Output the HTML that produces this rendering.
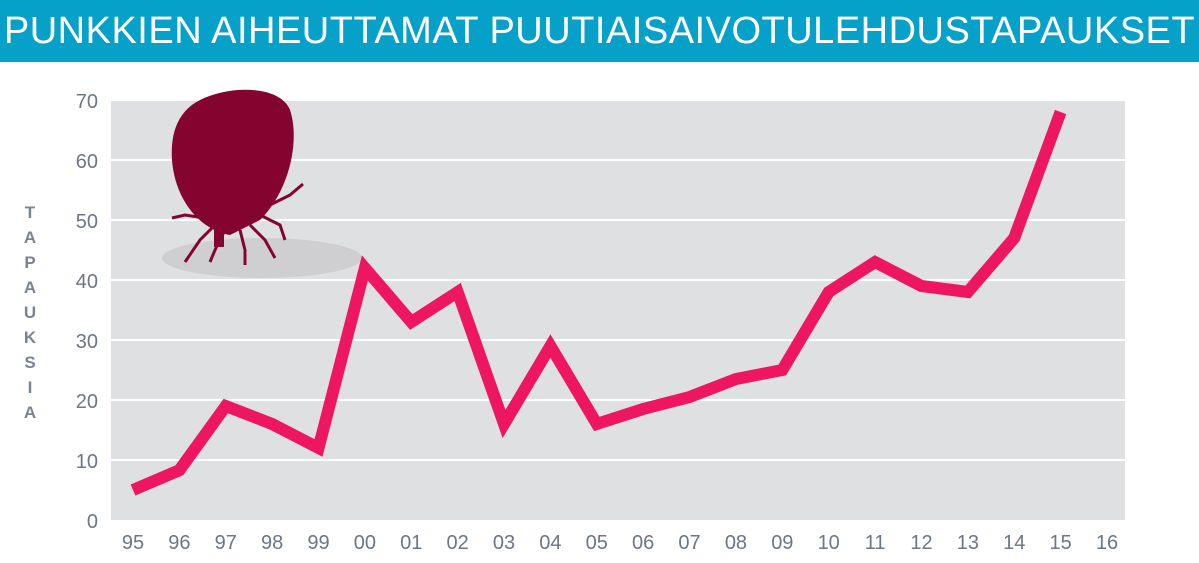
<!DOCTYPE html>
<html><head><meta charset="utf-8"><style>
body{margin:0;width:1199px;height:563px;background:#fff;overflow:hidden;font-family:"Liberation Sans",sans-serif}
#hdr{position:absolute;left:0;top:0;width:1199px;height:62px;background:#05a1c8;color:#fff;font-size:38px;line-height:62px;text-align:center;letter-spacing:0.5px}
</style></head><body>
<div id="hdr">PUNKKIEN AIHEUTTAMAT PUUTIAISAIVOTULEHDUSTAPAUKSET</div>
<svg id="chart" width="1199" height="563" style="position:absolute;left:0;top:0">
<rect x="111" y="100" width="1014" height="420" fill="#dfe0e2"/>
<g id="grid"></g><g id="yt"></g><g id="xt"></g>
<g>
<ellipse cx="262" cy="258" rx="100" ry="20" fill="#c8c8cc" opacity="0.7"/>
<path d="M200 100 C230 85 280 85 290 110 C300 140 290 190 260 220 L230 235 C200 230 175 200 172 160 C170 130 180 110 200 100Z" fill="#85042f"/>
<g stroke="#85042f" stroke-width="3" fill="none">
<path d="M215 225 L200 240 L185 262"/><path d="M225 230 L215 250 L210 262"/><path d="M240 230 L245 250 L245 265"/><path d="M250 225 L265 240 L275 258"/><path d="M260 215 L280 225 L285 240"/><path d="M270 205 L290 195 L303 184"/><path d="M205 218 L185 215 L172 218"/></g>
<rect x="214" y="225" width="10" height="22" fill="#85042f"/>
</g>
<path id="line" fill="none" stroke="#ee1660" stroke-width="12" stroke-linejoin="miter"/>
<g fill="#7a8490" font-size="17" font-weight="bold" text-anchor="middle">
<text x="30" y="218">T</text><text x="30" y="243">A</text><text x="30" y="268">P</text><text x="30" y="293">A</text><text x="30" y="318">U</text><text x="30" y="343">K</text><text x="30" y="368">S</text><text x="30" y="393">I</text><text x="30" y="418">A</text></g>
</svg>
<script>
const years=["95","96","97","98","99","00","01","02","03","04","05","06","07","08","09","10","11","12","13","14","15","16"];
const cases=[5,8.3,19,16,12,42,33,38,16,29,16,18.5,20.5,23.5,25,38,43,39,38,47,68];
const yTicks=[0,10,20,30,40,50,60,70];
const NS="http://www.w3.org/2000/svg";
const x=i=>133+i*46.38, y=v=>520-v*6;
const grid=document.getElementById('grid'),yt=document.getElementById('yt'),xt=document.getElementById('xt');
yTicks.forEach(t=>{
 if(t>0){const l=document.createElementNS(NS,'line');
 
 
 l.setAttribute('x1',111);l.setAttribute('x2',1125);l.setAttribute('y1',y(t));l.setAttribute('y2',y(t));l.setAttribute('stroke','#fff');l.setAttribute('stroke-width','2');grid.appendChild(l);}
 const s=document.createElementNS(NS,'text');
 
 
 s.setAttribute('x',98);s.setAttribute('y',y(t)+8);s.setAttribute('text-anchor','end');s.setAttribute('font-size','20');s.setAttribute('fill','#6b7785');s.textContent=t;yt.appendChild(s);
});
years.forEach((c,i)=>{
 const s=document.createElementNS(NS,'text');
 
 
 s.setAttribute('x',x(i));s.setAttribute('y',549);s.setAttribute('text-anchor','middle');s.setAttribute('font-size','20');s.setAttribute('fill','#6b7785');s.textContent=c;xt.appendChild(s);
});
document.getElementById('line').setAttribute('d',cases.map((v,i)=>(i?'L':'M')+x(i)+' '+y(v)).join(' '));
</script>
</body></html>
